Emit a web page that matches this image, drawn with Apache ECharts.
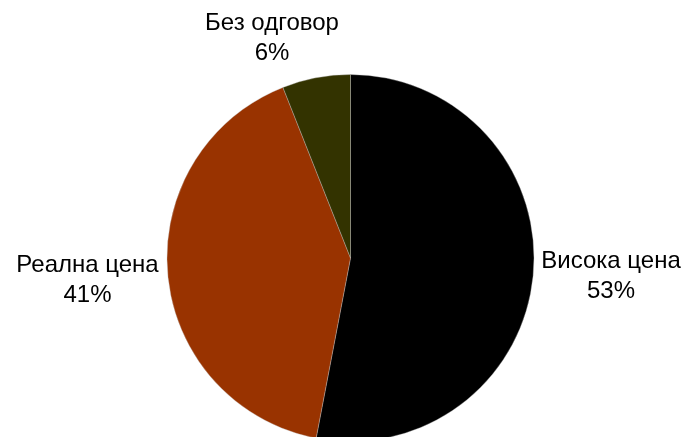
<!DOCTYPE html>
<html>
<head>
<meta charset="utf-8">
<script src="https://cdn.jsdelivr.net/npm/echarts@6/dist/echarts.min.js"></script>
<style>html,body{margin:0;padding:0;background:#fff;}#c{width:683px;height:437px;}</style>
</head>
<body>
<div id="c"></div>
<script>
var categories = ['Висока цена', 'Реална цена', 'Без одговор'];
var values = [53, 41, 6];
var colors = ['#000000', '#993300', '#333300'];

var labelPos = [[611, 276], [87.5, 280], [272, 38]];

var chart = echarts.init(document.getElementById('c'), null, {renderer: 'canvas'});
chart.setOption({
  backgroundColor: '#ffffff',
  animation: false,
  series: [{
    type: 'pie',
    center: [350.5, 258],
    radius: 183.5,
    startAngle: 90,
    clockwise: true,
    data: categories.map(function (c, i) {
      return {name: c, value: values[i], itemStyle: {color: colors[i]}};
    }),
    itemStyle: {borderColor: 'rgba(200,200,200,0.6)', borderWidth: 0.6},
    label: {
      show: true,
      position: 'outside',
      formatter: '{b}\n{d}%',
      fontFamily: 'Liberation Sans, Arial, sans-serif',
      fontSize: 24,
      lineHeight: 30,
      color: '#000',
      overflow: 'none',
      width: 300
    },
    labelLine: {show: false},
    labelLayout: function (p) {
      var pos = labelPos[p.dataIndex];
      return {x: pos[0], y: pos[1], align: 'center', verticalAlign: 'middle'};
    },
    emphasis: {disabled: true}
  }]
});
</script>
</body>
</html>
